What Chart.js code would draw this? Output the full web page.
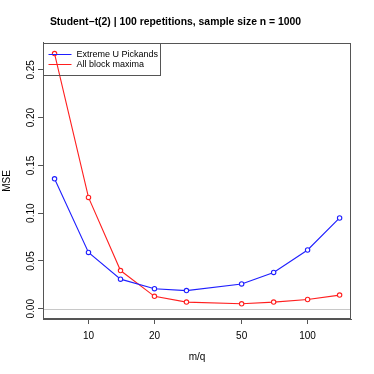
<!DOCTYPE html>
<html>
<head>
<meta charset="utf-8">
<script src="https://cdn.jsdelivr.net/npm/chart.js@4/dist/chart.umd.min.js"></script>
<style>
  body { margin: 0; background: #fff; }
</style>
</head>
<body>
<canvas id="grafik" width="374" height="374"></canvas>
<script>
// m/q values (log axis)
var mq = [7, 10, 14, 20, 28, 50, 70, 100, 140];
var pickands = [0.136, 0.059, 0.031, 0.021, 0.019, 0.026, 0.038, 0.0615, 0.095];
var blockMax = [0.267, 0.1165, 0.040, 0.013, 0.007, 0.0052, 0.007, 0.0097, 0.0143];
var xTicks = [10, 20, 50, 100];
var yTicks = [0, 0.05, 0.10, 0.15, 0.20, 0.25];

var font = "'Liberation Sans', Arial, sans-serif";
var siva = "#555555";

function tacke(ys) {
  return mq.map(function (x, i) { return { x: x, y: ys[i] }; });
}

// frame, zero line and the legend box
var okvir = {
  id: "okvir",
  beforeDatasetsDraw: function (chart) {
    var c = chart.ctx, a = chart.chartArea;
    var y0 = Math.round(chart.scales.y.getPixelForValue(0)) + 0.5;
    c.save();
    c.strokeStyle = "#c8c8c8";
    c.lineWidth = 1;
    c.beginPath();
    c.moveTo(a.left, y0);
    c.lineTo(a.right, y0);
    c.stroke();
    c.restore();
  },
  afterDraw: function (chart) {
    var c = chart.ctx, a = chart.chartArea;
    c.save();
    c.strokeStyle = siva;
    c.lineWidth = 1;
    c.strokeRect(Math.round(a.left) + 0.5, Math.round(a.top) + 0.5,
      Math.round(a.right - a.left) - 1, Math.round(a.bottom - a.top) - 1);

    var lx = Math.round(a.left) + 0.5, ly = Math.round(a.top) + 0.5;
    c.strokeRect(lx, ly, 117, 32);
    c.font = "9px " + font;
    c.textBaseline = "middle";
    c.fillStyle = "#000";
    chart.data.datasets.forEach(function (ds, i) {
      var yy = ly + 11 + i * 10;
      c.strokeStyle = ds.borderColor;
      c.beginPath();
      c.moveTo(lx + 5, yy);
      c.lineTo(lx + 28, yy);
      c.stroke();
      c.fillText(ds.label, lx + 33, yy);
    });
    c.restore();
  }
};

var grafik = new Chart(document.getElementById("grafik").getContext("2d"), {
  type: "line",
  data: {
    datasets: [
      {
        label: "Extreme U Pickands",
        data: tacke(pickands),
        borderColor: "#1f1fff",
        backgroundColor: "#ffffff",
        pointBorderColor: "#1f1fff",
        pointBackgroundColor: "#ffffff",
        borderWidth: 1.1,
        pointRadius: 2.2,
        pointBorderWidth: 1.1,
        tension: 0
      },
      {
        label: "All block maxima",
        data: tacke(blockMax),
        borderColor: "#ff1f1f",
        backgroundColor: "#ffffff",
        pointBorderColor: "#ff1f1f",
        pointBackgroundColor: "#ffffff",
        borderWidth: 1.1,
        pointRadius: 2.2,
        pointBorderWidth: 1.1,
        tension: 0
      }
    ]
  },
  options: {
    responsive: false,
    animation: false,
    layout: { padding: { top: 0, right: 23, bottom: 0, left: 0 } },
    plugins: {
      legend: { display: false },
      tooltip: { enabled: false },
      title: {
        display: true,
        text: "Student\u2212t(2) | 100 repetitions, sample size n = 1000",
        color: "#000",
        font: { family: font, size: 10.4, weight: "bold" },
        padding: { top: 16, bottom: 14.5 }
      }
    },
    scales: {
      x: {
        type: "logarithmic",
        min: 6.2,
        max: 157.8,
        afterBuildTicks: function (s) {
          s.ticks = xTicks.map(function (v) { return { value: v }; });
        },
        afterFit: function (s) { s.height = 55; },
        ticks: {
          autoSkip: false,
          maxRotation: 0,
          padding: 6,
          color: "#000",
          font: { family: font, size: 10 },
          callback: function (v) { return String(v); }
        },
        grid: { drawOnChartArea: false, drawTicks: true, tickLength: 5, color: siva },
        border: { display: true, color: siva },
        title: {
          display: true,
          text: "m/q",
          color: "#000",
          font: { family: font, size: 10 },
          padding: { top: 0, bottom: 11 }
        }
      },
      y: {
        type: "linear",
        min: -0.0107,
        max: 0.2781,
        afterBuildTicks: function (s) {
          s.ticks = yTicks.map(function (v) { return { value: v }; });
        },
        afterFit: function (s) { s.width = 43; },
        ticks: {
          minRotation: 90,
          maxRotation: 90,
          crossAlign: "center",
          padding: -3.2,
          color: "#000",
          font: { family: font, size: 10 },
          callback: function (v) { return v.toFixed(2); }
        },
        grid: { drawOnChartArea: false, drawTicks: true, tickLength: 5, color: siva },
        border: { display: true, color: siva },
        title: {
          display: true,
          text: "MSE",
          color: "#000",
          font: { family: font, size: 10 },
          padding: { top: 1, bottom: 0 }
        }
      }
    }
  },
  plugins: [okvir]
});
</script>
</body>
</html>
